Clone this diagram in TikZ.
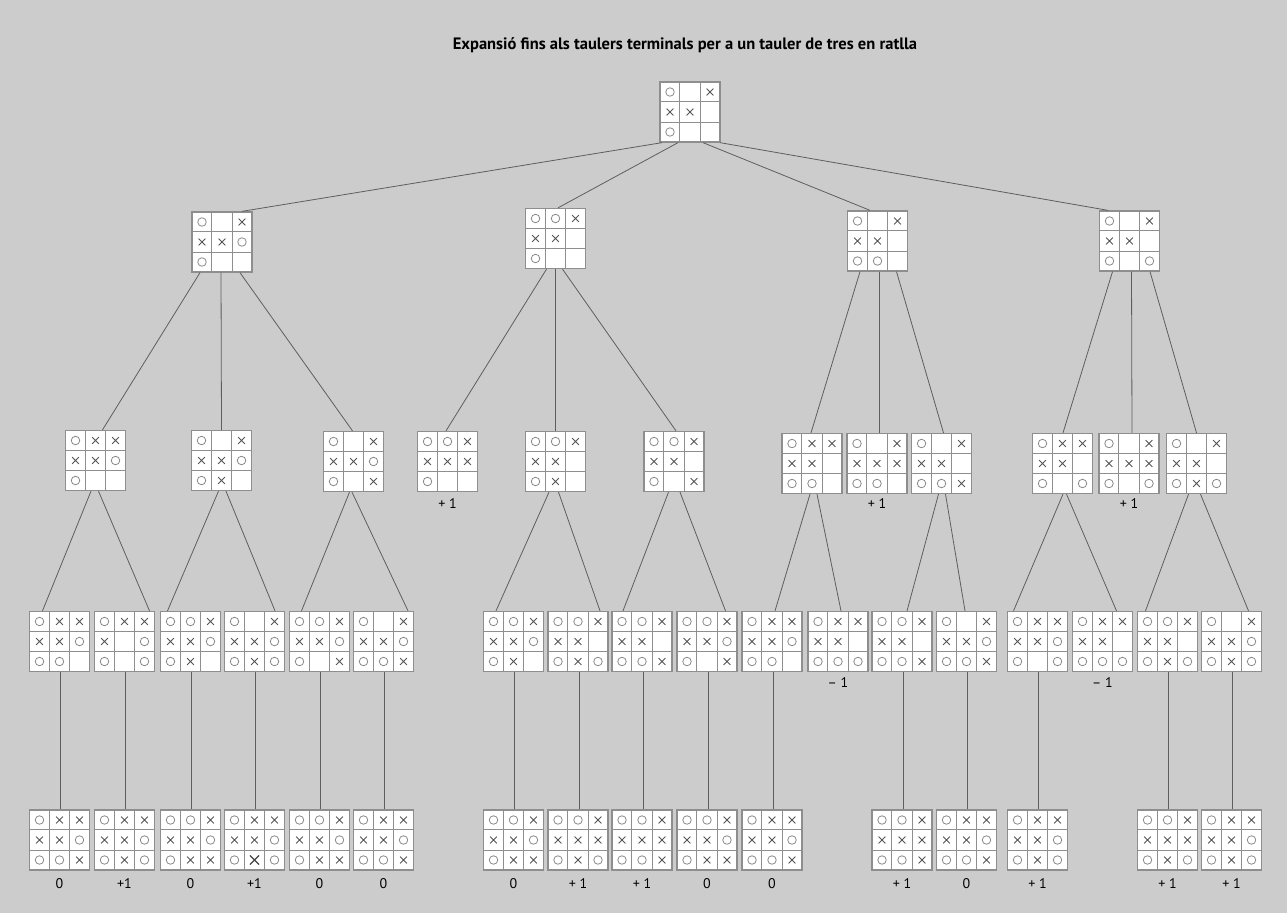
\documentclass[tikz,border=0pt]{standalone}
\usepackage{fontspec}
\setmainfont{PT Sans}
\usetikzlibrary{calc,shapes.misc}
\definecolor{bg}{HTML}{CCCCCC}
\definecolor{gridc}{HTML}{8E8E8E}
\definecolor{edgec}{HTML}{5E5E5E}
\definecolor{omc}{HTML}{8A8A8A}
\definecolor{xmc}{HTML}{555555}
\tikzset{
  boardbox/.style={rectangle, draw=gridc, fill=white, line width=1.3pt, minimum size=60pt, inner sep=0pt},
  gridline/.style={draw=gridc, line width=1.3pt},
  omark/.style={circle, draw=omc, line width=0.8pt, minimum size=8.5pt, inner sep=0pt},
  xmark/.style={cross out, draw=xmc, line width=0.8pt, minimum size=6pt, inner sep=0pt},
  bigxmark/.style={cross out, draw=xmc!80!black, line width=1.1pt, minimum size=8pt, inner sep=0pt},
  conn/.style={draw=edgec, line width=0.8pt},
  val/.style={font=\fontsize{14}{14}\selectfont, text=black, inner sep=0pt},
  ttl/.style={font=\bfseries\fontsize{16.5}{16.5}\selectfont, text=black, inner sep=0pt},
}
\newcommand\mko[2]{\node[omark] (#1) at (#2) {};}
\newcommand\mkx[2]{\node[xmark] (#1) at (#2) {};}
\newcommand\mkX[2]{\node[bigxmark] (#1) at (#2) {};}
\expandafter\def\csname mk-\endcsname#1#2{}
\newcommand\board[4]{%
  \node[boardbox] (#1) at (#2,#3) {};
  \draw[gridline] ($(#1.north west)!1/3!(#1.north east)$) -- ($(#1.south west)!1/3!(#1.south east)$)
                  ($(#1.north west)!2/3!(#1.north east)$) -- ($(#1.south west)!2/3!(#1.south east)$)
                  ($(#1.north west)!1/3!(#1.south west)$) -- ($(#1.north east)!1/3!(#1.south east)$)
                  ($(#1.north west)!2/3!(#1.south west)$) -- ($(#1.north east)!2/3!(#1.south east)$);
  \foreach \m [count=\i from 0] in {#4} {
    \pgfmathtruncatemacro\cc{mod(\i,3)}
    \pgfmathtruncatemacro\rr{floor(\i/3)}
    \csname mk\m\endcsname{#1-\i}{$(#1.center)+({(\cc-1)*20},{(\rr-1)*20})$}
  }
}
\newcommand\link[4]{\draw[conn] ([xshift=#2]#1.south) -- ([xshift=#4]#3.north);}
\newcommand\val[3]{\node[val] (v-#1) at ([yshift=#2]#1.south) {#3};}
\begin{document}
\begin{tikzpicture}[x=1pt,y=-1pt]
\fill[bg] (0,0) rectangle (1287,913);
\useasboundingbox (0,0) rectangle (1287,913);
\node[ttl] (title) at (685,45) {Expansió fins als taulers terminals per a un tauler de tres en ratlla};

% level 0 and 1
\board{root}{690}{112}{o,-,x,x,x,-,o,-,-}
\board{b1}{222}{242}{o,-,x,x,x,o,o,-,-}
\board{b2}{555.5}{238.5}{o,o,x,x,x,-,o,-,-}
\board{b3}{877.5}{241}{o,-,x,x,x,-,o,o,-}
\board{b4}{1129.5}{241}{o,-,x,x,x,-,o,-,o}

% level 2
\board{c1}{95.5}{460.5}{o,x,x,x,x,o,o,-,-}
\board{c2}{221.5}{460.5}{o,-,x,x,x,o,o,x,-}
\board{c3}{353.5}{461.5}{o,-,x,x,x,o,o,-,x}
\board{c4}{447.5}{461.5}{o,o,x,x,x,x,o,-,-}
\board{c5}{555.5}{461.5}{o,o,x,x,x,-,o,x,-}
\board{c6}{674}{461.5}{o,o,x,x,x,-,o,-,x}
\board{c7}{812}{463.5}{o,x,x,x,x,-,o,o,-}
\board{c8}{877}{463.5}{o,-,x,x,x,x,o,o,-}
\board{c9}{941.5}{463.5}{o,-,x,x,x,-,o,o,x}
\board{c10}{1062.5}{463.5}{o,x,x,x,x,-,o,-,o}
\board{c11}{1129}{463.5}{o,-,x,x,x,x,o,-,o}
\board{c12}{1196.5}{463.5}{o,-,x,x,x,-,o,x,o}

% level 3
\board{d1}{59.5}{641.5}{o,x,x,x,x,o,o,o,-}
\board{d2}{124.5}{641.5}{o,x,x,x,-,o,o,-,o}
\board{d3}{190.5}{641.5}{o,o,x,x,x,o,o,x,-}
\board{d4}{254.5}{641.5}{o,-,x,x,x,o,o,x,o}
\board{d5}{319.5}{641.5}{o,o,x,x,x,o,o,-,x}
\board{d6}{383.5}{641.5}{o,-,x,x,x,o,o,o,x}
\board{d7}{513.5}{641.5}{o,o,x,x,x,o,o,x,-}
\board{d8}{578}{641.5}{o,o,x,x,x,-,o,x,o}
\board{d9}{642}{641.5}{o,o,x,x,x,-,o,o,x}
\board{d10}{707}{641.5}{o,o,x,x,x,o,o,-,x}
\board{d11}{772}{641.5}{o,x,x,x,x,o,o,o,-}
\board{d12}{838}{641.5}{o,x,x,x,x,-,o,o,o}
\board{d13}{902}{641.5}{o,o,x,x,x,-,o,o,x}
\board{d14}{966.5}{641.5}{o,-,x,x,x,o,o,o,x}
\board{d15}{1037.5}{641.5}{o,x,x,x,x,o,o,-,o}
\board{d16}{1102.5}{641.5}{o,x,x,x,x,-,o,o,o}
\board{d17}{1167.5}{641.5}{o,o,x,x,x,-,o,x,o}
\board{d18}{1231.5}{641.5}{o,-,x,x,x,o,o,x,o}

% level 4
\board{e1}{59.5}{840}{o,x,x,x,x,o,o,o,x}
\board{e2}{124.5}{840}{o,x,x,x,x,o,o,x,o}
\board{e3}{190.5}{840}{o,o,x,x,x,o,o,x,x}
\board{e4}{254.5}{840}{o,x,x,x,x,o,o,X,o}
\board{e5}{319.5}{840}{o,o,x,x,x,o,o,x,x}
\board{e6}{383.5}{840}{o,x,x,x,x,o,o,o,x}
\board{e7}{513.5}{840}{o,o,x,x,x,o,o,x,x}
\board{e8}{578}{840}{o,o,x,x,x,x,o,x,o}
\board{e9}{642}{840}{o,o,x,x,x,x,o,o,x}
\board{e10}{707}{840}{o,o,x,x,x,o,o,x,x}
\board{e11}{772}{840}{o,x,x,x,x,o,o,o,x}
\board{e12}{902}{840}{o,o,x,x,x,x,o,o,x}
\board{e13}{966.5}{840}{o,x,x,x,x,o,o,o,x}
\board{e14}{1037.5}{840}{o,x,x,x,x,o,o,x,o}
\board{e15}{1167.5}{840}{o,o,x,x,x,x,o,x,o}
\board{e16}{1231.5}{840}{o,x,x,x,x,o,o,x,o}

% connectors root -> level 1
\link{root}{-28}{b1}{20}
\link{root}{-12}{b2}{2.5}
\link{root}{13}{b3}{-7.5}
\link{root}{30}{b4}{-21.5}
% level 1 -> level 2
\link{b1}{-22}{c1}{7}
\link{b1}{-1}{c2}{0}
\link{b1}{18}{c3}{-1}
\link{b2}{-9}{c4}{-1.5}
\link{b2}{0}{c5}{0}
\link{b2}{7}{c6}{2}
\link{b3}{-17.5}{c7}{-1}
\link{b3}{1.5}{c8}{2}
\link{b3}{19}{c9}{2}
\link{b4}{-17}{c10}{0.5}
\link{b4}{2}{c11}{3}
\link{b4}{20.5}{c12}{0}
% level 2 -> level 3
\link{c1}{-4.5}{d1}{-17}
\link{c1}{3}{d2}{25}
\link{c2}{-3}{d3}{-23}
\link{c2}{4.5}{d4}{20.5}
\link{c3}{-4}{d5}{-18}
\link{c3}{-1.5}{d6}{24.5}
\link{c5}{-6.5}{d7}{-17.5}
\link{c5}{3}{d8}{22}
\link{c6}{-5.5}{d9}{-19}
\link{c6}{6}{d10}{18.5}
\link{c7}{-2}{d11}{3}
\link{c7}{5}{d12}{3}
\link{c9}{-3}{d13}{5}
\link{c9}{4}{d14}{-1.5}
\link{c10}{0.5}{d15}{-24}
\link{c10}{4}{d16}{14}
\link{c12}{-8}{d17}{-22}
\link{c12}{4}{d18}{17}
% level 3 -> level 4
\foreach \p/\q in {d1/e1,d2/e2,d3/e3,d4/e4,d5/e5,d6/e6,d7/e7,d8/e8,d9/e9,d10/e10,d11/e11,d13/e12,d14/e13,d15/e14,d17/e15,d18/e16}
  {\link{\p}{1}{\q}{1}}

% values
\val{c4}{-11}{+ 1}
\val{c8}{-9.5}{+ 1}
\val{c11}{-9.5}{+ 1}
\val{d12}{-10.5}{– 1}
\val{d16}{-10.5}{– 1}
\val{e1}{-12.5}{0}
\val{e2}{-12.5}{+1}
\val{e3}{-12.5}{0}
\val{e4}{-12.5}{+1}
\val{e5}{-12.5}{0}
\val{e6}{-12.5}{0}
\val{e7}{-12.5}{0}
\val{e8}{-12.5}{+ 1}
\val{e9}{-12.5}{+ 1}
\val{e10}{-12.5}{0}
\val{e11}{-12.5}{0}
\val{e12}{-12.5}{+ 1}
\val{e13}{-12.5}{0}
\val{e14}{-12.5}{+ 1}
\val{e15}{-12.5}{+ 1}
\val{e16}{-12.5}{+ 1}
\end{tikzpicture}
\end{document}
